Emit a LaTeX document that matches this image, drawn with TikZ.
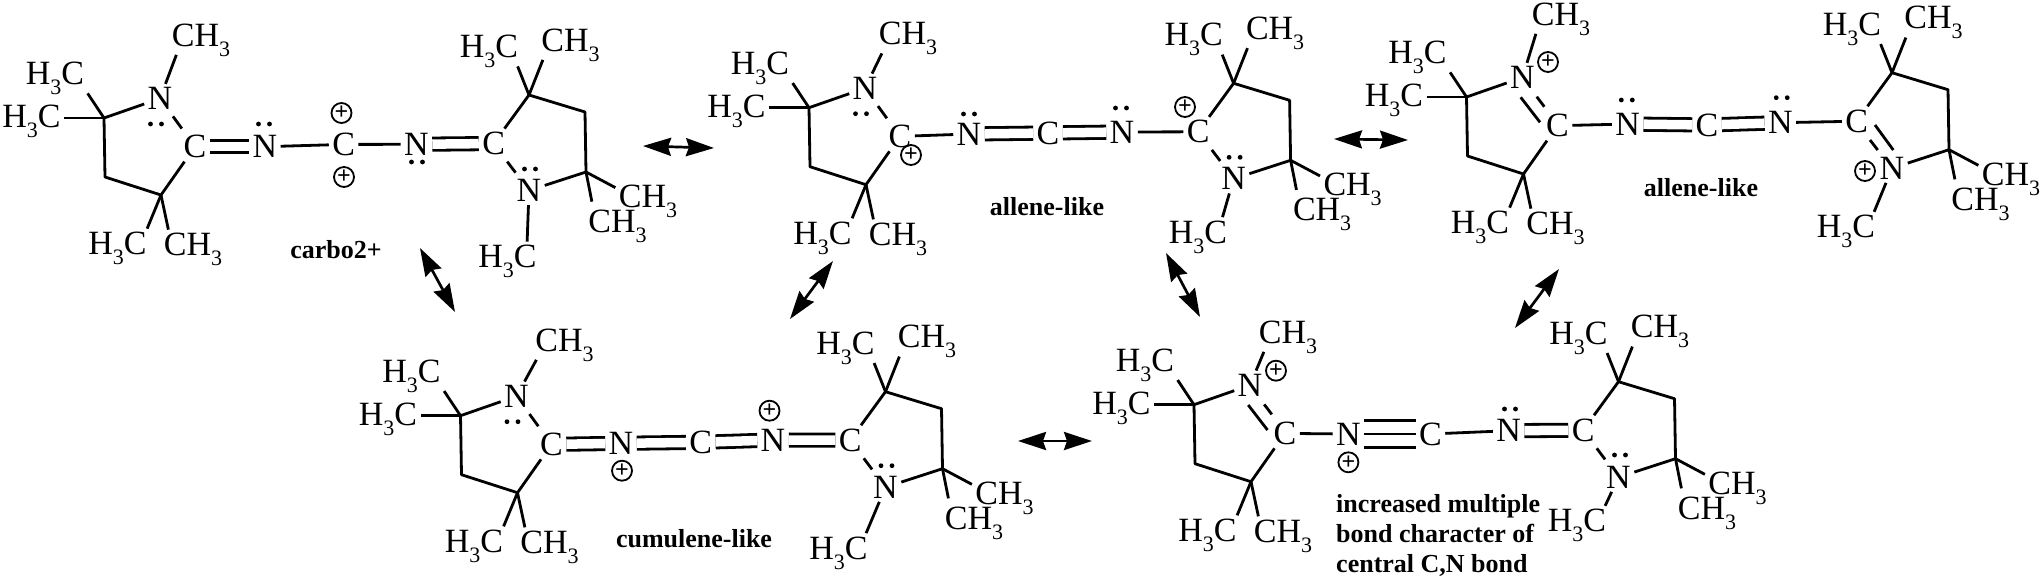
\documentclass[tikz,border=0pt]{standalone}
\usepackage{fontspec}
\setmainfont{Liberation Serif}
\usetikzlibrary{arrows.meta,calc}
\newcommand\sbsc[1]{\raisebox{-10pt}{\fontsize{22}{22}\selectfont #1}}
\newcommand\hthreec{H\sbsc{3}C}
\newcommand\chthree{CH\sbsc{3}}
\tikzset{
  atom/.style={inner sep=0pt,outer sep=3.5pt,font=\fontsize{34}{34}\selectfont},
  bond/.style={line width=2.8pt,line join=round},
  dbl/.style={bond,double,double distance=9.5pt},
  trp/.style={bond,double,double distance=24pt},
  plusc/.style={circle,draw,line width=1.8pt,minimum size=20pt,inner sep=0pt,font=\bfseries\fontsize{24}{24}\selectfont},
  lbl/.style={inner sep=0pt,font=\bfseries\fontsize{26}{30}\selectfont},
  res/.style={line width=2.7pt,{Stealth[length=28pt,width=18pt,inset=3pt]}-{Stealth[length=28pt,width=18pt,inset=3pt]}}
}
% left ring: prefix, dx, dy, methyl x, methyl y, bond end xshift
\newcommand\ringL[6]{%
\begin{scope}[shift={(#2,#3)}]
  \node[atom] (#1-N) at (160,98.5) {N};
  \node[atom] (#1-C) at (195,146.7) {C};
  \node[atom] (#1-Me) at (#4,#5) {\chthree};
  \node[atom] (#1-Hu) at (55,78.5) {\hthreec};
  \node[atom] (#1-Hl) at (31.5,121.5) {\hthreec};
  \node[atom] (#1-Hb) at (117.5,248.5) {\hthreec};
  \node[atom] (#1-Cb) at (193,249.5) {\chthree};
  \coordinate (#1-q1) at (104,118);
  \coordinate (#1-m) at (105,177);
  \coordinate (#1-q2) at (161,195);
  \draw[bond] (#1-N) -- ([xshift=#6 pt,yshift=5pt]#1-Me.south west);
  \draw[bond] (#1-N) -- (#1-q1) -- (#1-m) -- (#1-q2) -- (#1-C);
  \draw[bond] (#1-q1) -- ([yshift=5pt]#1-Hu.south east);
  \draw[bond] (#1-q1) -- ([yshift=3.5pt]#1-Hl.east);
  \draw[bond] (#1-q2) -- ([xshift=-3pt]#1-Hb.north east);
  \draw[bond] (#1-q2) -- ([xshift=8pt]#1-Cb.north west);
\end{scope}}
% right ring
\newcommand\ringR[6]{%
\begin{scope}[shift={(#2,#3)}]
  \node[atom] (#1-N) at (529,190.5) {N};
  \node[atom] (#1-C) at (493.6,143.5) {C};
  \node[atom] (#1-Me) at (#4,#5) {\hthreec};
  \node[atom] (#1-Ht) at (489,51.5) {\hthreec};
  \node[atom] (#1-Ct) at (570.5,45) {\chthree};
  \node[atom] (#1-Ca) at (648,201.5) {\chthree};
  \node[atom] (#1-Cb) at (617.5,226.5) {\chthree};
  \coordinate (#1-q1) at (529,95);
  \coordinate (#1-m) at (585,112);
  \coordinate (#1-q2) at (586,172);
  \draw[bond] (#1-N) -- ([xshift=#6 pt]#1-Me.north east);
  \draw[bond] (#1-C) -- (#1-q1) -- (#1-m) -- (#1-q2) -- (#1-N);
  \draw[bond] (#1-q1) -- ([xshift=-4pt,yshift=5pt]#1-Ht.south east);
  \draw[bond] (#1-q1) -- ([xshift=5pt,yshift=5pt]#1-Ct.south west);
  \draw[bond] (#1-q2) -- ([yshift=-6pt]#1-Ca.north west);
  \draw[bond] (#1-q2) -- ([xshift=7pt,yshift=5pt]#1-Cb.north west);
\end{scope}}
\newcommand\lpxy[2]{\fill (#1,#2) ++(-5.5,0) circle[radius=2.4pt] ++(11,0) circle[radius=2.4pt];}
\newcommand\lprel[1]{\fill ($(#1-N)+(-4,25.5)$) ++(-5.5,0) circle[radius=2.4pt] ++(11,0) circle[radius=2.4pt];}
\newcommand\ncL[1]{\draw[bond,shorten <=4pt,shorten >=4pt] (#1-N) -- (#1-C);\lprel{#1}}
\newcommand\ncR[1]{\draw[bond,shorten <=4pt,shorten >=4pt] (#1-C) -- (#1-N);}
\newcommand\ncLplus[1]{%
  \draw[bond] ($(#1-N)+(-1.8,19.8)$) -- ($(#1-C)+(-17.5,-3.4)$);
  \draw[bond] ($(#1-N)+(14.2,19.2)$) -- ($(#1-C)+(-13.2,-19)$);}
\newcommand\ncRplus[1]{%
  \draw[bond] ($(#1-C)+(18.4,3.8)$) -- ($(#1-N)+(1.3,-18.2)$);
  \draw[bond] ($(#1-C)+(13.4,18.8)$) -- ($(#1-N)+(-14.3,-18.2)$);}
\begin{document}
\begin{tikzpicture}[x=1pt,y=-1pt]
\useasboundingbox (0,0) rectangle (2042,584);
% ---------- molecule 1
\ringL{a}{0}{0}{201}{40}{8}
\ringR{b}{0}{0}{507.5}{261.5}{-13}
\ncL{a}\ncR{b}
\lpxy{530}{169}
\node[atom] (a1) at (264.8,146.7) {N};
\node[atom] (a2) at (343.6,144.4) {C};
\node[atom] (a3) at (416.5,144.3) {N};
\draw[dbl] (a-C) -- (a1);
\draw[bond] (a1) -- (a2);
\draw[bond] (a2) -- (a3);
\draw[dbl] (a3) -- (b-C);
\lpxy{264}{124}
\lpxy{417}{162}
\node[plusc] (ap1) at (341.5,113) {+};
\node[plusc] (ap2) at (344,177) {+};
\node[lbl] (al) at (336,250) {carbo2+};
% ---------- molecule 2
\ringL{c}{705}{-10.3}{203}{48.8}{6.5}
\ringR{d}{704.6}{-11.7}{493.3}{248.7}{-8}
\ncL{c}\ncR{d}
\lpxy{1234.6}{157.3}
\node[atom] (c1) at (969,134) {N};
\node[atom] (c2) at (1048,133) {C};
\node[atom] (c3) at (1122,132) {N};
\draw[bond] (c-C) -- (c1);
\draw[dbl] (c1) -- (c2);
\draw[dbl] (c2) -- (c3);
\draw[bond] (c3) -- (d-C);
\lpxy{969}{114}
\lpxy{1121}{108}
\node[plusc] (cp1) at (911,155) {+};
\node[plusc] (cp2) at (1185,107) {+};
\node[lbl] (cl) at (1047,207) {allene-like};
% ---------- molecule 3
\ringL{e}{1362.5}{-21}{198.5}{40}{7.5}
\ringR{f}{1363}{-22.3}{483}{254}{-4.5}
\ncLplus{e}\ncRplus{f}
\node[atom] (e1) at (1627.7,124) {N};
\node[atom] (e2) at (1707,125) {C};
\node[atom] (e3) at (1780.4,122.7) {N};
\draw[bond] (e-C) -- (e1);
\draw[dbl] (e1) -- (e2);
\draw[dbl] (e2) -- (e3);
\draw[bond] (e3) -- (f-C);
\lpxy{1626.8}{100}
\lpxy{1781.7}{97.7}
\node[plusc] (ep1) at (1548,62) {+};
\node[plusc] (ep2) at (1865,171) {+};
\node[lbl] (el) at (1701,188) {allene-like};
% ---------- molecule 4
\ringL{g}{356.5}{297.7}{208}{47.3}{4.5}
\ringR{h}{356.5}{296.7}{482}{256.3}{-5}
\ncL{g}\ncR{h}
\lpxy{886.5}{465.7}
\node[atom] (g1) at (621,443.3) {N};
\node[atom] (g2) at (700.7,442.3) {C};
\node[atom] (g3) at (773,440) {N};
\draw[dbl] (g-C) -- (g1);
\draw[dbl] (g1) -- (g2);
\draw[dbl] (g2) -- (g3);
\draw[dbl] (g3) -- (h-C);
\node[plusc] (gp1) at (622,470.7) {+};
\node[plusc] (gp2) at (769.5,410.7) {+};
\node[lbl] (gl) at (694,539) {cumulene-like};
% ---------- molecule 5
\ringL{k}{1090}{286.7}{198}{50.3}{8.5}
\ringR{m}{1089.5}{286.7}{487.5}{239}{-4.5}
\ncLplus{k}\ncR{m}
\lpxy{1620}{455}
\node[atom] (k1) at (1348.4,434) {N};
\node[atom] (k2) at (1430.4,434) {C};
\node[atom] (k3) at (1508.6,430.7) {N};
\draw[bond] (k-C) -- (k1);
\draw[trp] (k1) -- (k2);
\draw[bond] (k1) -- (k2);
\draw[bond] (k2) -- (k3);
\draw[dbl] (k3) -- (m-C);
\lpxy{1510}{409}
\node[plusc] (kp1) at (1276,370.7) {+};
\node[plusc] (kp2) at (1348.4,462.3) {+};
\node[lbl,align=left,anchor=north west] (kl) at (1336,494) {increased multiple\\bond character of\\central C,N bond};
% ---------- resonance arrows
\coordinate (r1a) at (643,146); \coordinate (r1b) at (714,148);
\coordinate (r2a) at (1334,139); \coordinate (r2b) at (1408,140);
\coordinate (r3a) at (420,248); \coordinate (r3b) at (455,312);
\coordinate (r4a) at (833,261); \coordinate (r4b) at (790,319);
\coordinate (r5a) at (1166,253); \coordinate (r5b) at (1200,317);
\coordinate (r6a) at (1559,269); \coordinate (r6b) at (1515,328);
\coordinate (r7a) at (1018,441); \coordinate (r7b) at (1092,441);
\draw[res] (r1a) -- (r1b);
\draw[res] (r2a) -- (r2b);
\draw[res] (r3a) -- (r3b);
\draw[res] (r4a) -- (r4b);
\draw[res] (r5a) -- (r5b);
\draw[res] (r6a) -- (r6b);
\draw[res] (r7a) -- (r7b);
\end{tikzpicture}
\end{document}
